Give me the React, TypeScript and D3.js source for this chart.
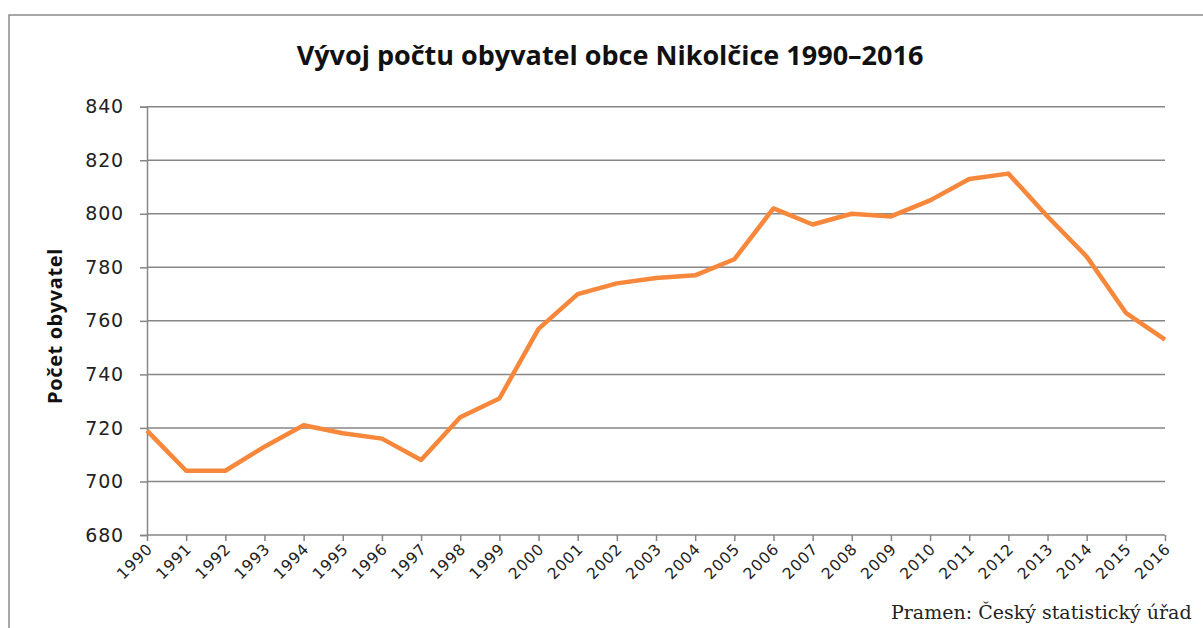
import React, { useRef, useEffect } from "react";
import * as d3 from "d3";

const years = [
  1990, 1991, 1992, 1993, 1994, 1995, 1996, 1997, 1998, 1999, 2000, 2001, 2002,
  2003, 2004, 2005, 2006, 2007, 2008, 2009, 2010, 2011, 2012, 2013, 2014, 2015, 2016,
];
const population = [
  719, 704, 704, 713, 721, 718, 716, 708, 724, 731, 757, 770, 774,
  776, 777, 783, 802, 796, 800, 799, 805, 813, 815, 799, 784, 763, 753,
];
const yTicks = [680, 700, 720, 740, 760, 780, 800, 820, 840];

const title = "Vývoj počtu obyvatel obce Nikolčice 1990–2016";
const yLabel = "Počet obyvatel";
const source = "Pramen: Český statistický úřad";

const App = () => {
  const svgRef = useRef<SVGSVGElement | null>(null);

  useEffect(() => {
    document.body.style.margin = "0";
    const width = 1203;
    const height = 628;
    const left = 147;
    const right = 1165;
    const top = 106.7;
    const bottom = 535;

    const svg = d3.select(svgRef.current);
    svg.selectAll("*").remove();
    svg.attr("width", width).attr("height", height);

    svg.append("rect").attr("width", width).attr("height", height).attr("fill", "#fff");

    // outer frame (cut off at right and bottom)
    svg
      .append("rect")
      .attr("x", 9)
      .attr("y", 15)
      .attr("width", 1300)
      .attr("height", 700)
      .attr("fill", "none")
      .attr("stroke", "#8c8c8c")
      .attr("stroke-width", 1.5);

    const x = d3.scaleLinear().domain([years[0], years[years.length - 1]]).range([left, right]);
    const y = d3.scaleLinear().domain([680, 840]).range([bottom, top]);

    // y axis
    const yAxis = svg
      .append("g")
      .attr("transform", `translate(${left},0)`)
      .call(d3.axisLeft(y).tickValues(yTicks).tickSize(7).tickPadding(16));
    yAxis.select(".domain").attr("stroke", "#868686").attr("stroke-width", 1.5);
    yAxis.selectAll(".tick line").attr("stroke", "#868686").attr("stroke-width", 1.5);
    yAxis
      .selectAll(".tick text")
      .attr("font-family", "DejaVu Sans, sans-serif")
      .attr("font-size", 19)
      .attr("letter-spacing", 0.8)
      .attr("fill", "#222");

    // gridlines
    svg
      .append("g")
      .selectAll("line")
      .data(yTicks)
      .enter()
      .append("line")
      .attr("x1", left)
      .attr("x2", right)
      .attr("y1", (d) => y(d))
      .attr("y2", (d) => y(d))
      .attr("stroke", "#868686")
      .attr("stroke-width", 1.5);

    // x axis
    const xAxis = svg
      .append("g")
      .attr("transform", `translate(0,${bottom})`)
      .call(d3.axisBottom(x).tickValues(years).tickFormat(d3.format("d")).tickSize(6));
    xAxis.select(".domain").remove();
    xAxis.selectAll(".tick line").attr("stroke", "#868686").attr("stroke-width", 1.5);
    xAxis
      .selectAll(".tick text")
      .attr("font-family", "DejaVu Sans, sans-serif")
      .attr("font-size", 15.5)
      .attr("letter-spacing", 0.8)
      .attr("fill", "#222")
      .attr("text-anchor", "end")
      .attr("dy", null)
      .attr("y", 0)
      .attr("transform", "translate(6,15) rotate(-45)");

    // data line
    const line = d3
      .line<number>()
      .x((d, i) => x(years[i]))
      .y((d) => y(d));

    svg
      .append("path")
      .datum(population)
      .attr("d", line)
      .attr("fill", "none")
      .attr("stroke", "#f7873a")
      .attr("stroke-width", 4.5)
      .attr("stroke-linejoin", "round");

    // title
    svg
      .append("text")
      .attr("x", 610)
      .attr("y", 65)
      .attr("text-anchor", "middle")
      .attr("font-family", "Open Sans, sans-serif")
      .attr("font-weight", "bold")
      .attr("font-size", 27)
      .attr("fill", "#111")
      .text(title);

    // y label
    svg
      .append("text")
      .attr("transform", `translate(62,326) rotate(-90)`)
      .attr("text-anchor", "middle")
      .attr("font-family", "Open Sans, sans-serif")
      .attr("font-weight", "bold")
      .attr("font-size", 20)
      .attr("letter-spacing", 0.6)
      .attr("fill", "#111")
      .text(yLabel);

    // source (runs into the right edge, as in the original)
    svg
      .append("text")
      .attr("x", 891)
      .attr("y", 619)
      .attr("font-family", "DejaVu Serif, serif")
      .attr("font-size", 19)
      .attr("fill", "#222")
      .text(source);
  }, []);

  return <svg ref={svgRef} style={{ display: "block" }}></svg>;
};

export default App;
